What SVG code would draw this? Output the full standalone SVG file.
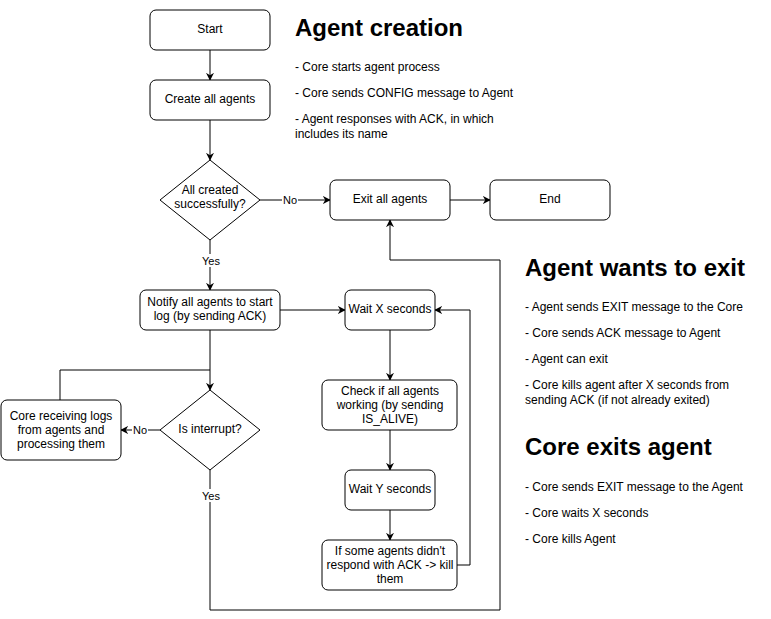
<svg xmlns="http://www.w3.org/2000/svg" width="771" height="619" viewBox="0 0 771 619">
<defs>
<marker id="arr" viewBox="0 0 10 10" refX="9" refY="5" markerWidth="8" markerHeight="8" markerUnits="userSpaceOnUse" orient="auto">
<path d="M0,0 L10,5 L0,10 L3,5 Z" fill="#000"/>
</marker>
</defs>
<style>
.n{fill:#fff;stroke:#000;stroke-width:1}
.t{font-family:"Liberation Sans",Arial,sans-serif;font-size:12px;fill:#000;text-anchor:middle}
.l{font-family:"Liberation Sans",Arial,sans-serif;font-size:11px;fill:#000;text-anchor:middle}
.c{fill:none;stroke:#000;stroke-width:1}
.a{marker-end:url(#arr)}
.h{font-family:"Liberation Sans",Arial,sans-serif;font-size:24px;font-weight:bold;fill:#000}
.b{font-family:"Liberation Sans",Arial,sans-serif;font-size:12px;fill:#000}
</style>
<rect width="771" height="619" fill="#fff"/>
<g id="connectors">
<path class="c a" d="M210,50 V80"/>
<path class="c a" d="M210,120 V160"/>
<path class="c a" d="M260,200 H330"/>
<path class="c a" d="M450,200 H490"/>
<path class="c a" d="M210,240 V290"/>
<path class="c a" d="M280,310 H345"/>
<path class="c a" d="M390,330 V380"/>
<path class="c a" d="M390,430 V470"/>
<path class="c a" d="M390,510 V540"/>
<path class="c a" d="M457,565 H470 V310 H435"/>
<path class="c a" d="M210,330 V390"/>
<path class="c" d="M60,400 V370 H210"/>
<path class="c a" d="M160,430 H121"/>
<path class="c a" d="M210,470 V610 H500 V260 H390 V220"/>
<rect x="282" y="193" width="16" height="13" fill="#fff"/>
<text class="l" x="290" y="204">No</text>
<rect x="201" y="254" width="20" height="13" fill="#fff"/>
<text class="l" x="211" y="265">Yes</text>
<rect x="132" y="423" width="16" height="13" fill="#fff"/>
<text class="l" x="140" y="434">No</text>
<rect x="201" y="489" width="20" height="13" fill="#fff"/>
<text class="l" x="211" y="500">Yes</text>
</g>
<g id="start"><rect class="n" x="150" y="10" width="120" height="40" rx="6"/><text class="t" x="210" y="33">Start</text></g>
<g id="create"><rect class="n" x="150" y="80" width="120" height="40" rx="6"/><text class="t" x="210" y="103">Create all agents</text></g>
<g id="allcreated"><polygon class="n" points="210,160 260,200 210,240 160,200"/><text class="t" x="210" y="193.5">All created</text><text class="t" x="210" y="207.5">successfully?</text></g>
<g id="exitall"><rect class="n" x="330" y="180" width="120" height="40" rx="6"/><text class="t" x="390" y="203">Exit all agents</text></g>
<g id="end"><rect class="n" x="490" y="180" width="120" height="40" rx="6"/><text class="t" x="550" y="203">End</text></g>
<g id="notify"><rect class="n" x="140" y="290" width="140" height="40" rx="6"/><text class="t" x="210" y="306">Notify all agents to start</text><text class="t" x="210" y="320">log (by sending ACK)</text></g>
<g id="waitx"><rect class="n" x="345" y="290" width="90" height="40" rx="6"/><text class="t" x="390" y="313">Wait X seconds</text></g>
<g id="check"><rect class="n" x="322" y="380" width="135" height="50" rx="6"/><text class="t" x="390" y="394.5">Check if all agents</text><text class="t" x="390" y="408.5">working (by sending</text><text class="t" x="390" y="422.5">IS_ALIVE)</text></g>
<g id="waity"><rect class="n" x="345" y="470" width="90" height="40" rx="6"/><text class="t" x="390" y="493">Wait Y seconds</text></g>
<g id="ifsome"><rect class="n" x="322" y="540" width="135" height="50" rx="6"/><text class="t" x="390" y="554.5">If some agents didn't</text><text class="t" x="390" y="568.5">respond with ACK -&gt; kill</text><text class="t" x="390" y="582.5">them</text></g>
<g id="interrupt"><polygon class="n" points="210,390 260,430 210,470 160,430"/><text class="t" x="210" y="433">Is interrupt?</text></g>
<g id="corelogs"><rect class="n" x="1" y="400" width="120" height="60" rx="6"/><text class="t" x="61" y="419.5">Core receiving logs</text><text class="t" x="61" y="433.5">from agents and</text><text class="t" x="61" y="447.5">processing them</text></g>
<g id="notes">
<text class="h" x="295" y="36">Agent creation</text>
<text class="b" x="295" y="71">- Core starts agent process</text>
<text class="b" x="295" y="97">- Core sends CONFIG message to Agent</text>
<text class="b" x="295" y="123">- Agent responses with ACK, in which</text>
<text class="b" x="295" y="138">includes its name</text>
<text class="h" x="525" y="276">Agent wants to exit</text>
<text class="b" x="525" y="311">- Agent sends EXIT message to the Core</text>
<text class="b" x="525" y="337">- Core sends ACK message to Agent</text>
<text class="b" x="525" y="363">- Agent can exit</text>
<text class="b" x="525" y="389">- Core kills agent after X seconds from</text>
<text class="b" x="525" y="404">sending ACK (if not already exited)</text>
<text class="h" x="525" y="455">Core exits agent</text>
<text class="b" x="525" y="491">- Core sends EXIT message to the Agent</text>
<text class="b" x="525" y="517">- Core waits X seconds</text>
<text class="b" x="525" y="543">- Core kills Agent</text>
</g>
</svg>
